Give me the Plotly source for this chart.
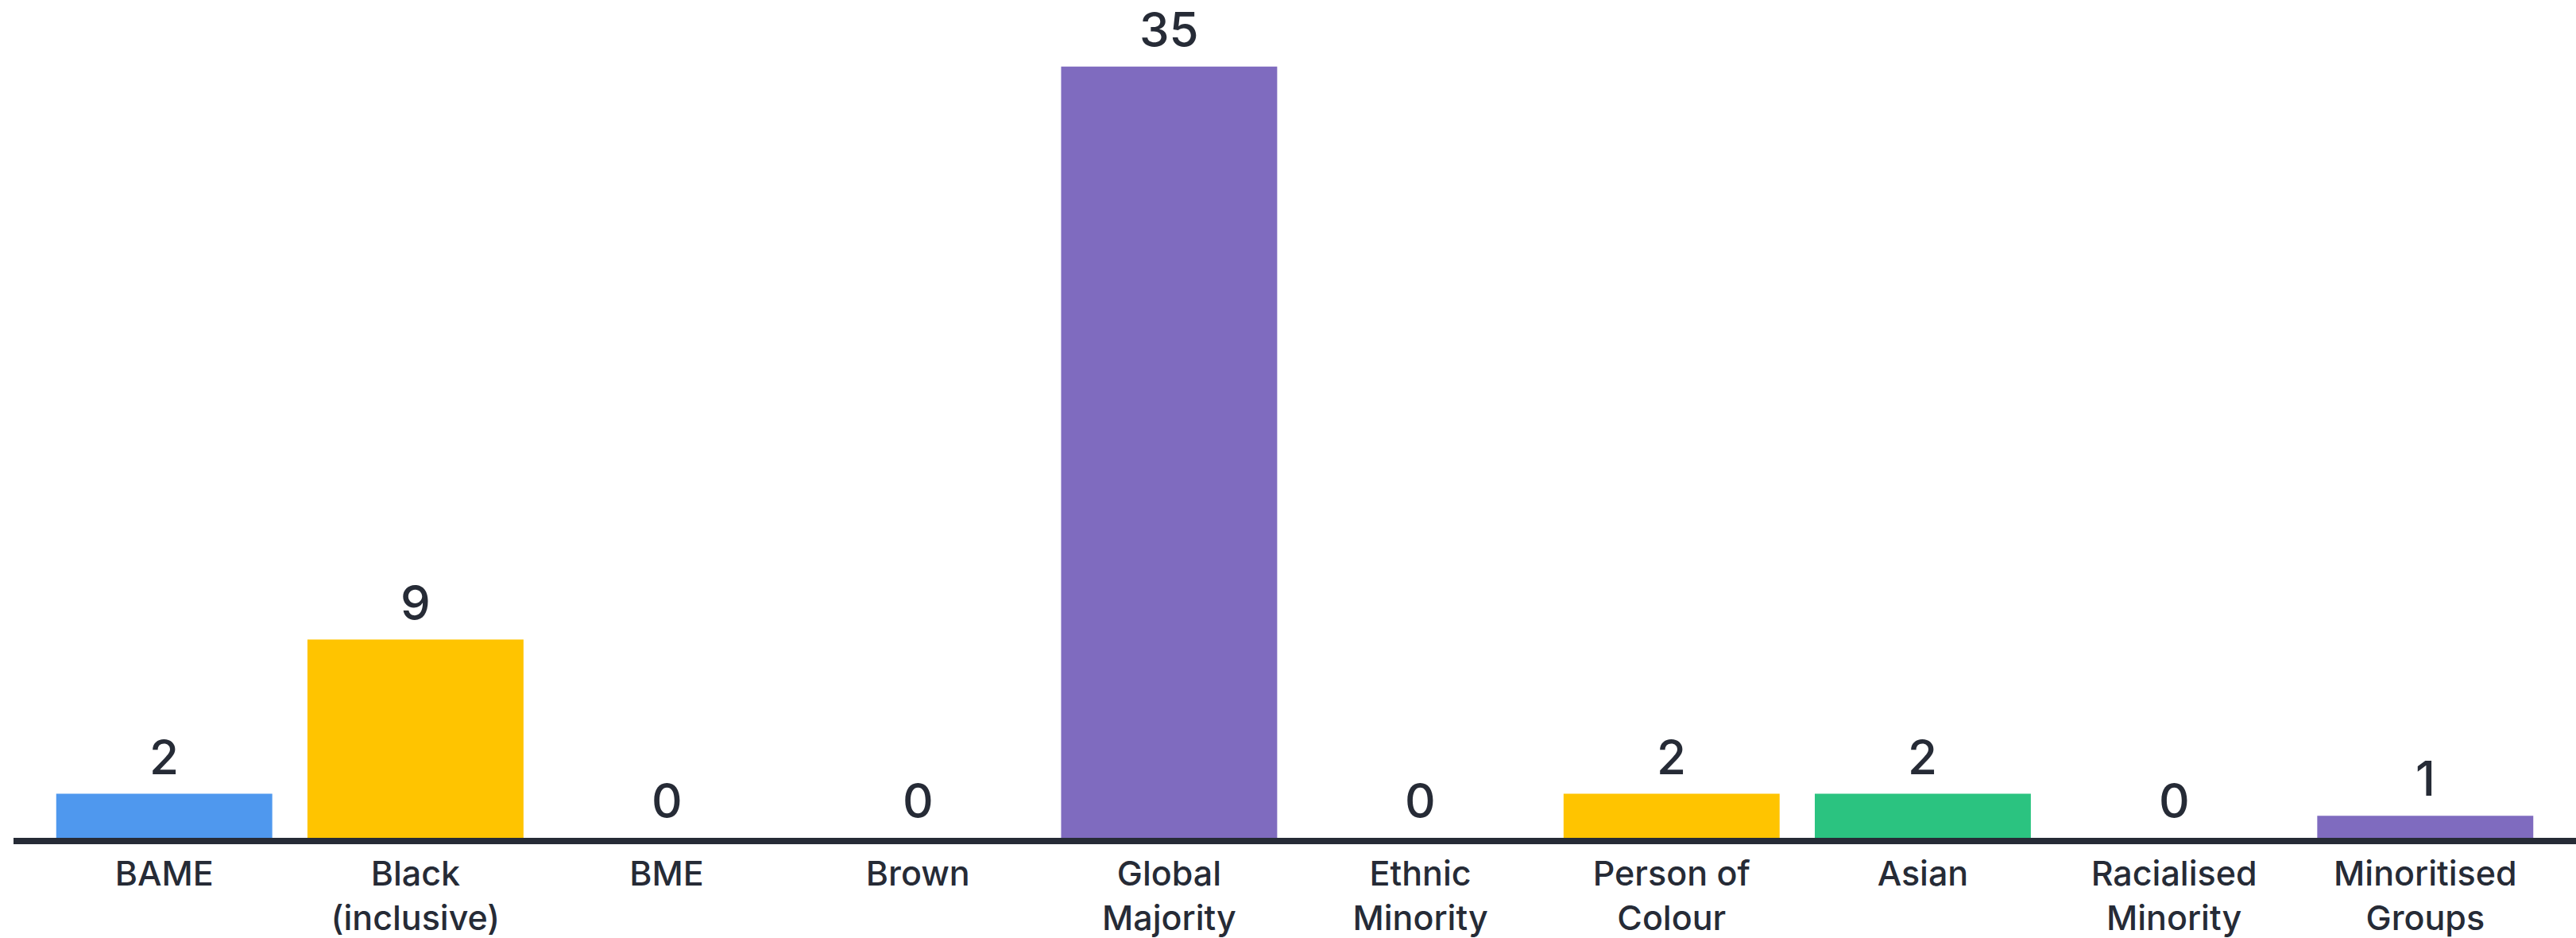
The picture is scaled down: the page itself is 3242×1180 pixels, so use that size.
import plotly.graph_objects as go

categories = ["BAME", "Black<br>(inclusive)", "BME", "Brown", "Global<br>Majority",
              "Ethnic<br>Minority", "Person of<br>Colour", "Asian", "Racialised<br>Minority",
              "Minoritised<br>Groups"]
values = [2, 9, 0, 0, 35, 0, 2, 2, 0, 1]
colors = ["#4F98EE", "#FFC400", "#2BC380", "#4F98EE", "#7F6BBF",
          "#FFC400", "#FFC400", "#2BC380", "#4F98EE", "#7F6BBF"]

TEXT = "#262B36"
FONT = "Inter"

fig = go.Figure()
fig.add_trace(go.Bar(
    x=list(range(len(categories))), y=values,
    marker=dict(color=colors, line=dict(width=0)),
    hoverinfo="skip",
))

for i, v in enumerate(values):
    fig.add_annotation(x=i, y=v, text=str(v), showarrow=False,
                       yanchor="bottom", yshift=9,
                       font=dict(family=FONT, size=60, color=TEXT, weight=500))

fig.update_layout(
    width=3242, height=1180,
    margin=dict(l=17, r=0, t=20, b=118),
    paper_bgcolor="white", plot_bgcolor="white",
    bargap=0.14, showlegend=False,
    font=dict(family=FONT, color=TEXT),
)
fig.update_xaxes(
    range=[-0.6, 9.6],
    tickmode="array", tickvals=list(range(len(categories))), ticktext=categories,
    tickfont=dict(family=FONT, size=43, color=TEXT, weight=500),
    showline=True, linecolor=TEXT, linewidth=8,
    ticks="", showgrid=False, zeroline=False,
)
fig.update_yaxes(range=[0, 37.3], visible=False, showgrid=False, zeroline=False)

fig.write_html("out.html")
